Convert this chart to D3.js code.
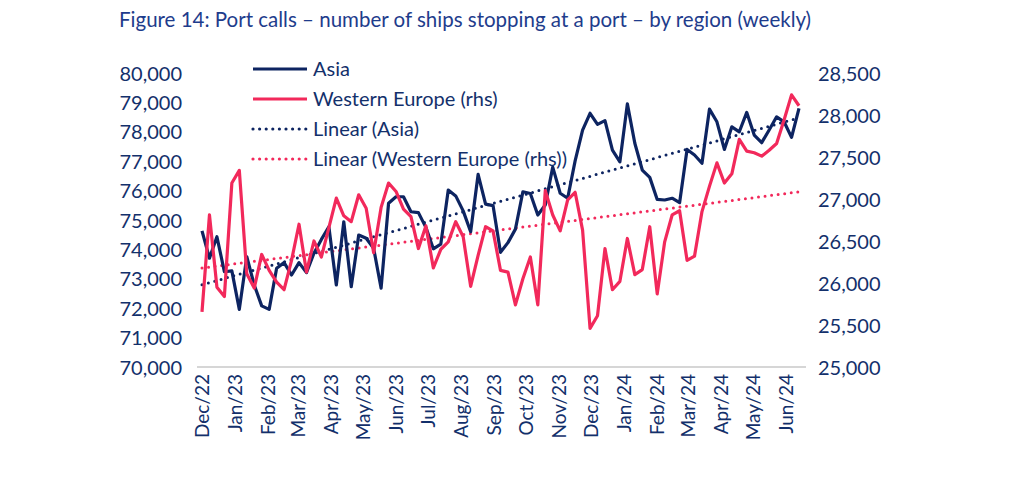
<!DOCTYPE html>
<html>
<head>
<meta charset="utf-8">
<script src="https://cdn.jsdelivr.net/npm/d3@7"></script>
<style>
  body { margin: 0; background: #fff; }
  svg { display: block; }
  text { font-family: Lato, "Noto Sans", sans-serif; }
</style>
</head>
<body>
<script>
// Weekly port calls, first week ending ~30 Nov 2022
const startDate = new Date(Date.UTC(2022, 10, 30));

// Asia (lhs)
const asia = [
  74630, 73700, 74430, 73240, 73270, 71960, 73750, 72790, 72080, 71960,
  73360, 73550, 73130, 73550, 73210, 73870, 74340, 74770, 72790, 74940,
  72730, 74490, 74380, 74040, 72680, 75570, 75790, 75790, 75280, 75250,
  74750, 74020, 74180, 76020, 75820, 75310, 74600, 76550, 75540, 75490,
  73900, 74230, 74690, 75960, 75900, 75170, 75510, 76800, 75910, 75740,
  77010, 78060, 78630, 78250, 78380, 77380, 76980, 78950, 77610, 76700,
  76450, 75700, 75680, 75740, 75590, 77400, 77210, 76930, 78770, 78340,
  77400, 78170, 78000, 78660, 77890, 77630, 78060, 78510, 78340, 77810,
  78800
];

// Western Europe (rhs)
const westernEurope = [
  25655, 26810, 25950, 25840, 27190, 27340, 26110, 25940, 26340, 26150,
  26010, 25920, 26270, 26700, 26130, 26500, 26310, 26660, 27010, 26800,
  26730, 27050, 26890, 26360, 26900, 27190, 27090, 26880, 26790, 26410,
  26680, 26180, 26400, 26490, 26730, 26550, 25960, 26330, 26670, 26620,
  26150, 26130, 25740, 26050, 26310, 25740, 27100, 26810, 26620, 26990,
  27080, 26630, 25460, 25610, 26410, 25920, 26020, 26530, 26100, 26160,
  26670, 25870, 26490, 26810, 26860, 26270, 26320, 26850, 27150, 27430,
  27190, 27300, 27710, 27570, 27550, 27510, 27580, 27660, 27940, 28240,
  28110
];

const leftTicks = d3.range(70000, 80001, 1000);
const rightTicks = d3.range(25000, 28501, 500);
const legendItems = [
  { label: "Asia", color: "#0d2461", dotted: false },
  { label: "Western Europe (rhs)", color: "#f2295b", dotted: false },
  { label: "Linear (Asia)", color: "#0d2461", dotted: true },
  { label: "Linear (Western Europe (rhs))", color: "#f2295b", dotted: true }
];

const dates = asia.map((d, i) => d3.utcDay.offset(startDate, 7 * i));

const W = 1024, H = 479;
const plot = { left: 202, right: 799, top: 73, bottom: 367 };
const textColor = "#13306b";

const svg = d3.select("body").append("svg")
    .attr("width", W)
    .attr("height", H);

svg.append("rect").attr("width", W).attr("height", H).attr("fill", "#fff");

// Title
svg.append("text")
    .attr("x", 119)
    .attr("y", 27)
    .attr("fill", "#1e3c8c")
    .style("font-size", "20.5px")
    .text("Figure 14: Port calls \u2013 number of ships stopping at a port \u2013 by region (weekly)");

// Scales
const x = d3.scaleUtc()
    .domain([dates[0], dates[dates.length - 1]])
    .range([plot.left, plot.right]);
const yL = d3.scaleLinear().domain([70000, 80000]).range([plot.bottom, plot.top]);
const yR = d3.scaleLinear().domain([25000, 28500]).range([plot.bottom, plot.top]);

const fmt = d3.format(",");

// Left axis
const gL = svg.append("g")
    .attr("transform", "translate(" + (plot.left - 20) + ",0)")
    .call(d3.axisLeft(yL).tickValues(leftTicks).tickFormat(fmt).tickSize(0).tickPadding(0));
gL.select(".domain").remove();

// Right axis
const gR = svg.append("g")
    .attr("transform", "translate(" + (plot.right + 19) + ",0)")
    .call(d3.axisRight(yR).tickValues(rightTicks).tickFormat(fmt).tickSize(0).tickPadding(0));
gR.select(".domain").remove();

[gL, gR].forEach(g => g.selectAll("text")
    .attr("fill", textColor)
    .attr("dy", "0.35em")
    .style("font-size", "20px")
    .style("font-family", "Lato, 'Noto Sans', sans-serif"));

// Baseline
svg.append("line")
    .attr("x1", plot.left - 5).attr("x2", plot.right + 7)
    .attr("y1", plot.bottom).attr("y2", plot.bottom)
    .attr("stroke", "#c8c8c8")
    .attr("stroke-width", 1.5);

// Month axis
const gX = svg.append("g")
    .attr("transform", "translate(0," + plot.bottom + ")")
    .call(d3.axisBottom(x).ticks(d3.utcMonth.every(1)).tickFormat(d3.utcFormat("%b/%y")).tickSize(0).tickPadding(0));
gX.select(".domain").remove();
gX.selectAll("text")
    .attr("fill", textColor)
    .attr("text-anchor", "end")
    .attr("transform", "translate(-1,7) rotate(-90)")
    .attr("dy", "0.35em")
    .attr("y", 0)
    .attr("x", 0)
    .style("font-size", "19px")
    .style("font-family", "Lato, 'Noto Sans', sans-serif");

// Linear trends (least squares over week index)
function trend(values) {
  const n = values.length;
  const mx = d3.mean(d3.range(n)), my = d3.mean(values);
  let sxy = 0, sxx = 0;
  values.forEach((v, i) => { sxy += (i - mx) * (v - my); sxx += (i - mx) * (i - mx); });
  const b = sxy / sxx, a = my - b * mx;
  return [0, n - 1].map(i => ({ date: dates[i], value: a + b * i }));
}

const trendLine = (scale) => d3.line().x(d => x(d.date)).y(d => scale(d.value));

svg.append("path")
    .datum(trend(westernEurope))
    .attr("d", trendLine(yR))
    .attr("fill", "none")
    .attr("stroke", "#f2295b")
    .attr("stroke-width", 3)
    .attr("stroke-linecap", "round")
    .attr("stroke-dasharray", "0 6.6");

svg.append("path")
    .datum(trend(asia))
    .attr("d", trendLine(yL))
    .attr("fill", "none")
    .attr("stroke", "#0d2461")
    .attr("stroke-width", 3)
    .attr("stroke-linecap", "round")
    .attr("stroke-dasharray", "0 6.6");

// Series lines
const asiaLine = d3.line().x((d, i) => x(dates[i])).y(d => yL(d));
const weLine = d3.line().x((d, i) => x(dates[i])).y(d => yR(d));

svg.append("path")
    .datum(asia)
    .attr("d", asiaLine)
    .attr("fill", "none")
    .attr("stroke", "#0d2461")
    .attr("stroke-width", 3.2)
    .attr("stroke-linejoin", "round");

svg.append("path")
    .datum(westernEurope)
    .attr("d", weLine)
    .attr("fill", "none")
    .attr("stroke", "#f2295b")
    .attr("stroke-width", 3.2)
    .attr("stroke-linejoin", "round");

// Legend
const legend = svg.append("g").attr("transform", "translate(253,69)");
legendItems.forEach((item, i) => {
  const row = legend.append("g").attr("transform", "translate(0," + (i * 30) + ")");
  row.append("line")
      .attr("x1", 0).attr("x2", 54)
      .attr("stroke", item.color)
      .attr("stroke-width", 3.2)
      .attr("stroke-linecap", item.dotted ? "round" : "butt")
      .attr("stroke-dasharray", item.dotted ? "0 6.6" : null);
  row.append("text")
      .attr("x", 60)
      .attr("dy", "0.35em")
      .attr("fill", textColor)
      .style("font-size", "20px")
      .text(item.label);
});
</script>
</body>
</html>
